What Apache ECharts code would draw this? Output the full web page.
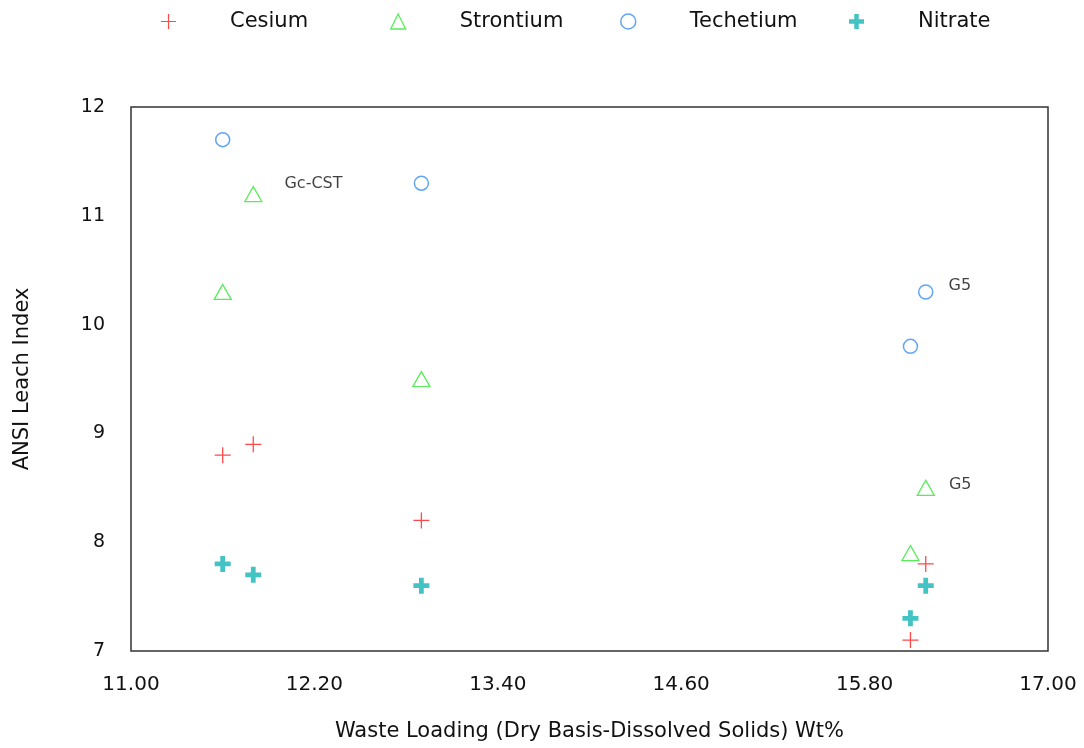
<!DOCTYPE html>
<html>
<head>
<meta charset="utf-8">
<script src="https://cdn.jsdelivr.net/npm/echarts@6/dist/echarts.min.js"></script>
<style>
html,body{margin:0;padding:0;background:#fff;}
#chart{width:1084px;height:748px;}
</style>
</head>
<body>
<div id="chart"></div>
<script>
// ---- data ----
var seriesNames = ['Cesium', 'Strontium', 'Techetium', 'Nitrate'];
var cesiumX = [11.6, 11.8, 12.9, 16.2, 16.1];
var cesiumY = [8.8, 8.9, 8.2, 7.8, 7.1];
var strontiumX = [11.6, 11.8, 12.9, 16.2, 16.1];
var strontiumY = [10.3, 11.2, 9.5, 8.5, 7.9];
var techetiumX = [11.6, 12.9, 16.2, 16.1];
var techetiumY = [11.7, 11.3, 10.3, 9.8];
var nitrateX = [11.6, 11.8, 12.9, 16.2, 16.1];
var nitrateY = [7.8, 7.7, 7.6, 7.6, 7.3];
// point annotations: series name -> {point index: text}
var pointLabels = {
  Strontium: {1: 'Gc-CST', 3: 'G5'},
  Techetium: {2: 'G5'}
};
var xTickLabels = ['11.00', '12.20', '13.40', '14.60', '15.80', '17.00'];

// ---- styles ----
var FONT = '"DejaVu Sans", "Liberation Sans", sans-serif';
var thinPlus = 'path://M0,9.2 H20 V10.8 H0 Z M9.2,0 H10.8 V20 H9.2 Z';
var thickPlus = 'path://M0,7 H20 V13 H0 Z M7,0 H13 V20 H7 Z';
var styles = {
  Cesium: {symbol: thinPlus, size: 16, itemStyle: {color: '#ff1a1a'}},
  Strontium: {symbol: 'triangle', size: [17, 15], itemStyle: {color: 'rgba(0,0,0,0)', borderColor: '#2ee82e', borderWidth: 1.3}},
  Techetium: {symbol: 'circle', size: 14, itemStyle: {color: 'rgba(0,0,0,0)', borderColor: '#3a8ff5', borderWidth: 1.5}},
  Nitrate: {symbol: thickPlus, size: 16, itemStyle: {color: '#14b4b4'}}
};
var labelStyle = {
  Strontium: {1: {distance: 22, offset: [0, -10]}, 3: {distance: 14, offset: [0, -3]}},
  Techetium: {2: {distance: 15, offset: [0, -6]}}
};
var legendLeft = [156, 385, 615, 844];

function buildData(name, xs, ys) {
  var out = [];
  for (var i = 0; i < xs.length; i++) {
    var d = {value: [xs[i], ys[i]]};
    var lbls = pointLabels[name];
    if (lbls && lbls[i]) {
      var ls = labelStyle[name][i];
      d.label = {
        show: true, position: 'right', formatter: lbls[i],
        distance: ls.distance, offset: ls.offset,
        color: '#111', fontSize: 16, fontFamily: FONT
      };
    }
    out.push(d);
  }
  return out;
}

var xs = {Cesium: cesiumX, Strontium: strontiumX, Techetium: techetiumX, Nitrate: nitrateX};
var ys = {Cesium: cesiumY, Strontium: strontiumY, Techetium: techetiumY, Nitrate: nitrateY};

var series = seriesNames.map(function (n) {
  var s = styles[n];
  return {
    name: n, type: 'scatter', symbol: s.symbol, symbolSize: s.size,
    itemStyle: s.itemStyle,
    data: buildData(n, xs[n], ys[n]),
    emphasis: {disabled: true}, animation: false
  };
});

var legends = seriesNames.map(function (n, i) {
  return {
    data: [{name: n, icon: styles[n].symbol, itemStyle: styles[n].itemStyle}],
    left: legendLeft[i], top: 6, itemWidth: 15, itemHeight: 15,
    textStyle: {fontSize: 21, fontFamily: FONT, color: '#111', padding: [0, 0, 0, 49]},
    selectedMode: false
  };
});

var chart = echarts.init(document.getElementById('chart'), null, {renderer: 'canvas'});
chart.setOption({
  backgroundColor: '#fff',
  animation: false,
  legend: legends,
  grid: {left: 131, right: 36, top: 107, bottom: 97, show: true, borderColor: '#333', borderWidth: 1.5, backgroundColor: 'transparent'},
  xAxis: {
    type: 'value', min: 11, max: 17, interval: 1.2,
    name: 'Waste Loading (Dry Basis-Dissolved Solids) Wt%',
    nameLocation: 'middle', nameGap: 70,
    nameTextStyle: {fontSize: 21, fontFamily: FONT, color: '#111'},
    axisLine: {show: false}, axisTick: {show: false}, splitLine: {show: false},
    axisLabel: {
      fontSize: 20, fontFamily: FONT, color: '#111', margin: 24,
      formatter: function (v) {
        var idx = Math.round((v - 11) / 1.2);
        return xTickLabels[idx] !== undefined ? xTickLabels[idx] : v.toFixed(2);
      }
    }
  },
  yAxis: {
    type: 'value', min: 7, max: 12, interval: 1,
    name: 'ANSI Leach Index',
    nameLocation: 'middle', nameGap: 98,
    nameTextStyle: {fontSize: 21, fontFamily: FONT, color: '#111'},
    axisLine: {show: false}, axisTick: {show: false}, splitLine: {show: false},
    axisLabel: {fontSize: 19, fontFamily: FONT, color: '#111', margin: 26}
  },
  series: series
});
</script>
</body>
</html>
